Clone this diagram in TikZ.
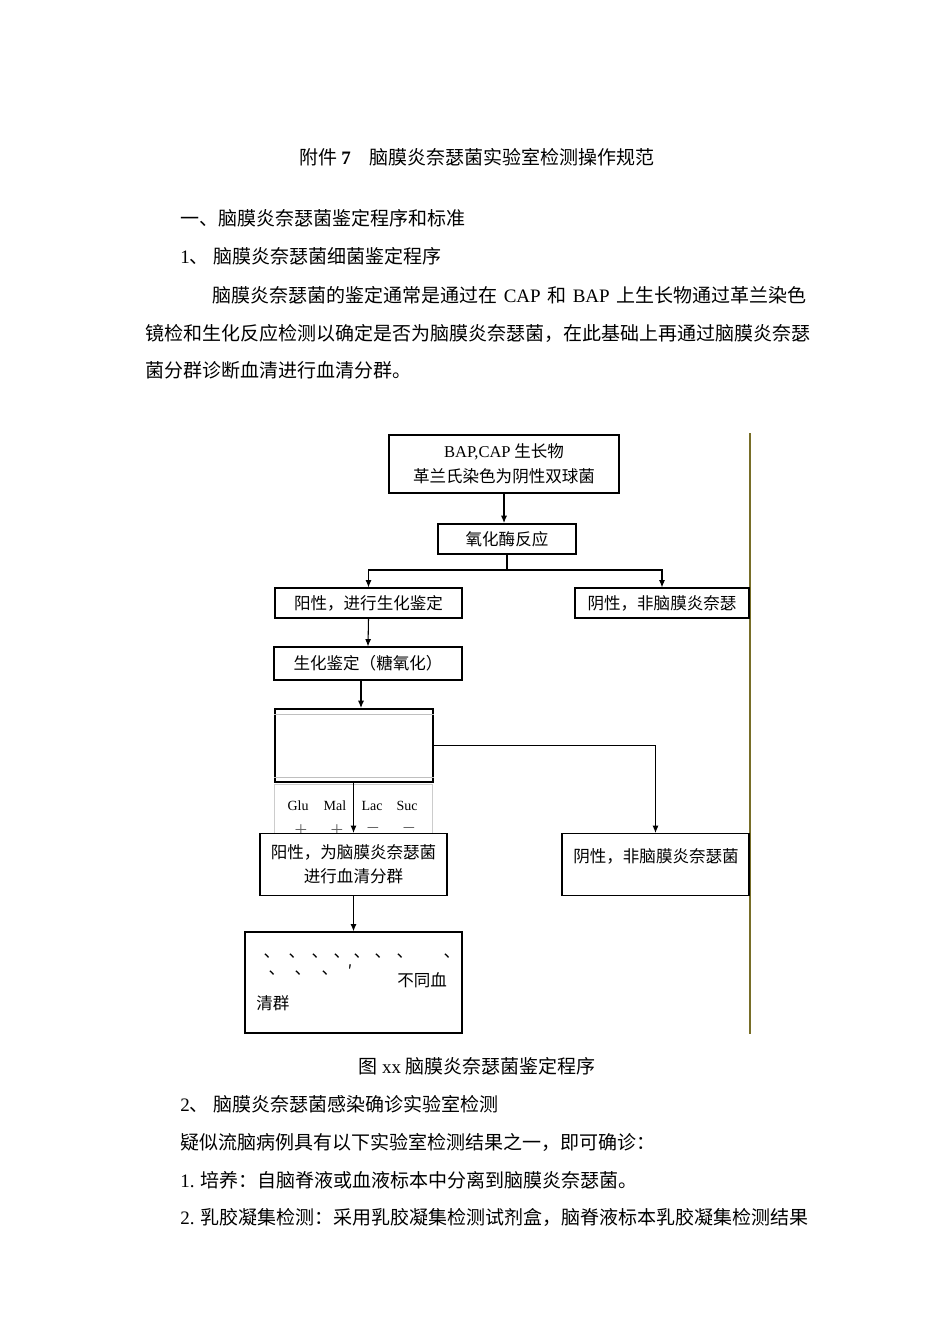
\documentclass[tikz,border=0pt]{standalone}
\usepackage{fontspec}
\setmainfont{Noto Sans CJK SC}
\newfontfamily\tr{Liberation Serif}
\usetikzlibrary{arrows.meta}
\definecolor{olive1}{RGB}{120,110,40}
\newcommand{\bodyfs}{\fontsize{14.25}{17}\selectfont}
\newcommand{\dfs}{\fontsize{12.4}{16}\selectfont}
\begin{document}
\begin{tikzpicture}[x=0.75pt,y=-0.75pt,
  box/.style={draw,line width=0.8pt,inner sep=0pt,font=\dfs,fill=white},
  thick box/.style={box,line width=1.4pt},
  arr/.style={line width=0.8pt,-{Latex[length=5.5pt,width=4.5pt]}},
  body/.style={anchor=base west,inner sep=0pt,font=\bodyfs},
  dtext/.style={inner sep=0pt,font=\dfs},
  sug/.style={inner sep=0pt,font=\tr\fontsize{10.5}{12}\selectfont},
  sgn/.style={inner sep=0pt,font=\fontsize{11}{12}\selectfont,text=gray!80!black}]
\useasboundingbox[fill=white] (0,0) rectangle (950,1344);

% header text
\node[body,anchor=base] (title) at (477,165) {附件 {\tr\bfseries 7}\quad 脑膜炎奈瑟菌实验室检测操作规范};
\node[body] (h1) at (180,226) {一、脑膜炎奈瑟菌鉴定程序和标准};
\node[body] (h2) at (180,264) {{\tr 1}、 脑膜炎奈瑟菌细菌鉴定程序};
\node[body] (p1) at (212,303) {\makebox[445.5pt][s]{脑膜炎奈瑟菌的鉴定通常是通过在 {\tr CAP} 和 {\tr BAP} 上生长物通过革兰染色}};
\node[body] (p2) at (145,340) {镜检和生化反应检测以确定是否为脑膜炎奈瑟菌，在此基础上再通过脑膜炎奈瑟};
\node[body] (p3) at (145,377) {菌分群诊断血清进行血清分群。};

% vertical olive line
\coordinate (vtop) at (750,433);
\coordinate (vbot) at (750,1034);
\draw[olive1,line width=1pt] (vtop) -- (vbot);

% boxes
\node[box,minimum width=172.5pt,minimum height=43.5pt,align=center] (b1) at (504,464)
  {{\tr BAP,CAP} 生长物\\[3pt]革兰氏染色为阴性双球菌};
\node[thick box,minimum width=103.5pt,minimum height=22.5pt] (b2) at (507,539) {氧化酶反应};
\node[box,minimum width=140.25pt,minimum height=22.5pt] (b3) at (368.5,603) {阳性，进行生化鉴定};
\node[box,minimum width=130.5pt,minimum height=22.5pt] (b4) at (662,603) {阴性，非脑膜炎奈瑟};
\node[box,minimum width=141pt,minimum height=24.75pt] (b5) at (368,663.5) {生化鉴定（糖氧化）\hspace{12pt}};
\node[thick box,minimum width=118.5pt,minimum height=54.75pt] (b6) at (354,745.5) {};
\draw[gray!50,line width=0.6pt] ([yshift=-5pt]b6.north west) -- ([yshift=-5pt]b6.north east);
\draw[gray!50,line width=0.6pt] ([yshift=4pt]b6.south west) -- ([yshift=4pt]b6.south east);
\node[draw=gray!40,line width=0.6pt,inner sep=0pt,minimum width=118.5pt,minimum height=36.75pt] (g) at (353,808.5) {};
\node[sug] (glu) at (298,806) {Glu};
\node[sug] (mal) at (335,806) {Mal};
\node[sug] (lac) at (372,806) {Lac};
\node[sug] (suc) at (407,806) {Suc};
\node[sgn] (s1) at (301,830) {＋};
\node[sgn] (s2) at (337,830) {＋};
\node[sgn] (s3) at (373,830) {－};
\node[sgn] (s4) at (409,830) {－};

\node[box,minimum width=140.25pt,minimum height=46.5pt,align=center,anchor=north] (b7) at (353.5,833)
  {阳性，为脑膜炎奈瑟菌\\[2pt]进行血清分群};
\node[box,minimum width=140.25pt,minimum height=46.5pt,anchor=north] (b8) at (655.5,833) {};
\node[dtext] (b8t) at (656,856) {阴性，非脑膜炎奈瑟菌};
\node[box,line width=1pt,minimum width=162.75pt,minimum height=75.75pt] (b9) at (353.5,982.5) {};
\foreach \x [count=\i] in {267,292,315,337,357,378,400,447}
  \node[dtext] (d\i) at (\x+5,956) {、};
\foreach \x [count=\i] in {272,298,325}
  \node[dtext] (e\i) at (\x+5,973) {、};
\node[dtext] (pr) at (350,971) {′};
\node[dtext,anchor=west] (bt) at (397,980) {不同血};
\node[dtext,anchor=west] (qq) at (256,1003) {清群};

% connectors
\coordinate (split) at (507,570);
\coordinate (c361) at (361,0);
\draw[arr] (b1.south) -- (b1.south |- b2.north);
\draw[line width=0.8pt] (b2.south) -- (split);
\draw[arr] (split) -| (b3.north);
\draw[arr] (split) -| (b4.north);
\draw[arr] (b3.south) -- (b5.north);
\draw[arr] (b5.south -| c361) -- (b6.north -| c361);
\draw[arr] (b6.east) -| (b8.north);
\draw[arr] (b6.south -| b7.north) -- (b7.north);
\draw[arr] (b7.south) -- (b9.north);

% caption and following text
\node[body,anchor=base] (cap) at (477,1073) {图 {\tr xx} 脑膜炎奈瑟菌鉴定程序};
\node[body] (h3) at (180,1111) {{\tr 2}、 脑膜炎奈瑟菌感染确诊实验室检测};
\node[body] (q1) at (180,1149) {疑似流脑病例具有以下实验室检测结果之一，即可确诊：};
\node[body] (q2) at (180,1187) {{\tr 1.} 培养：自脑脊液或血液标本中分离到脑膜炎奈瑟菌。};
\node[body] (q3) at (180,1224) {{\tr 2.} 乳胶凝集检测：采用乳胶凝集检测试剂盒，脑脊液标本乳胶凝集检测结果};
\end{tikzpicture}
\end{document}
